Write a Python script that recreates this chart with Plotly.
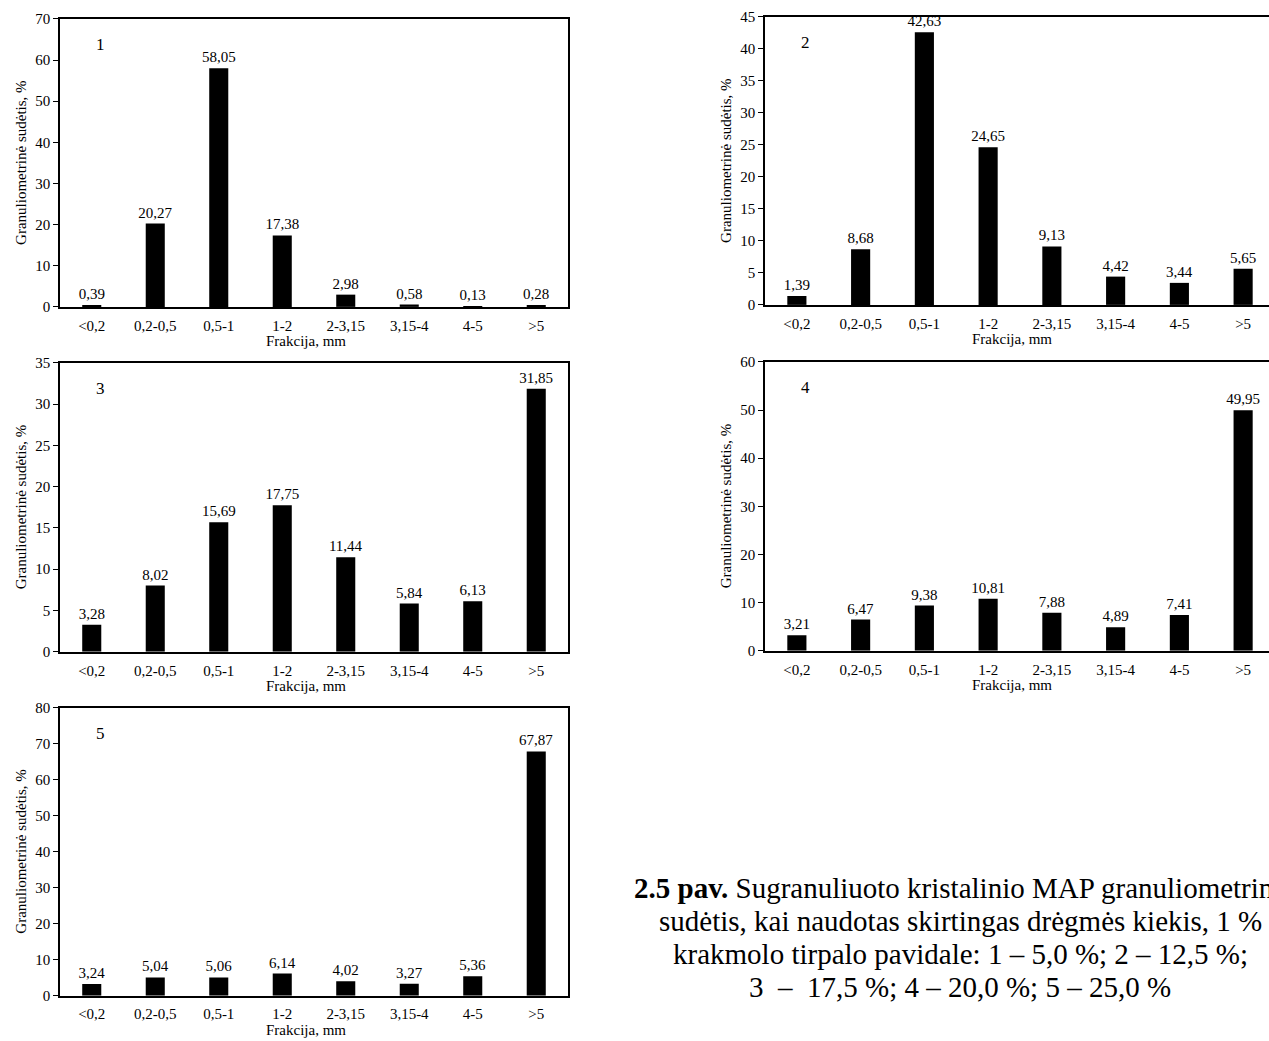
import plotly.graph_objects as go

W, H = 1269, 1041
# empirical vertical mapping of the photographed page: pic_y = 8 + 0.985 * fig_y
Y_OFF, Y_SCALE = 8.0, 0.985

categories = ["<0,2", "0,2-0,5", "0,5-1", "1-2", "2-3,15", "3,15-4", "4-5", ">5"]
values_1 = [0.39, 20.27, 58.05, 17.38, 2.98, 0.58, 0.13, 0.28]
values_2 = [1.39, 8.68, 42.63, 24.65, 9.13, 4.42, 3.44, 5.65]
values_3 = [3.28, 8.02, 15.69, 17.75, 11.44, 5.84, 6.13, 31.85]
values_4 = [3.21, 6.47, 9.38, 10.81, 7.88, 4.89, 7.41, 49.95]
values_5 = [3.24, 5.04, 5.06, 6.14, 4.02, 3.27, 5.36, 67.87]
panel_names = ["1", "2", "3", "4", "5"]
y_max = [70, 45, 35, 60, 80]
y_step = [10, 5, 5, 10, 10]

y_title = "Granuliometrinė sudėtis, %"
x_title = "Frakcija, mm"
caption_lines = [
    "<b>2.5 pav.</b> Sugranuliuoto kristalinio MAP granuliometrinė",
    "sudėtis, kai naudotas skirtingas drėgmės kiekis, 1 %",
    "krakmolo tirpalo pavidale: 1 – 5,0 %; 2 – 12,5 %;",
    "3  –  17,5 %; 4 – 20,0 %; 5 – 25,0 %",
]

all_values = [values_1, values_2, values_3, values_4, values_5]

# boxes in target picture pixels: (left, right, top, bottom)
boxes = [
    (60, 568, 19, 307),
    (765, 1275, 17, 305),
    (60, 568, 363, 652),
    (765, 1275, 362, 651),
    (60, 568, 708, 996),
]
FONT = "Liberation Serif"
fs = 15

fig = go.Figure()
annotations = []

def px_x(x):
    return x / W

def px_y(y):
    return 1 - ((y - Y_OFF) / Y_SCALE) / H

for i, (vals, box) in enumerate(zip(all_values, boxes)):
    l, r, t, b = box
    n = i + 1
    xa = "x" if n == 1 else f"x{n}"
    ya = "y" if n == 1 else f"y{n}"
    fig.add_trace(go.Bar(
        x=list(range(len(categories))), y=vals,
        xaxis=xa, yaxis=ya,
        marker=dict(color="black", line=dict(width=0)),
        text=[f"{v:.2f}".replace(".", ",") for v in vals],
        textposition="outside", cliponaxis=False, constraintext="none",
        textfont=dict(family=FONT, size=fs, color="black"),
        showlegend=False, hoverinfo="skip",
    ))
    cat_w = (r - l) / 8
    right_cut = r > W
    if right_cut:
        r_vis = W
        xr = [-0.5, -0.5 + (r_vis - l) / cat_w]
    else:
        r_vis = r
        xr = [-0.5, 7.5]
    xkey = "xaxis" if n == 1 else f"xaxis{n}"
    ykey = "yaxis" if n == 1 else f"yaxis{n}"
    fig.layout[xkey] = dict(
        domain=[px_x(l), min(1.0, px_x(r_vis))], anchor=ya, range=xr,
        tickmode="array", tickvals=list(range(len(categories))), ticktext=categories,
        showline=True, linecolor="black", linewidth=1.5, mirror=True,
        ticks="outside", ticklen=4, tickcolor="rgba(0,0,0,0)",
        showgrid=False, zeroline=False, fixedrange=True,
        tickfont=dict(family=FONT, size=fs, color="black"),
    )
    fig.layout[ykey] = dict(
        domain=[px_y(b), min(1.0, px_y(t))], anchor=xa, range=[0, y_max[i]], dtick=y_step[i],
        showline=True, linecolor="black", linewidth=1.5, mirror=(not right_cut),
        ticks="outside", ticklen=5, tickcolor="black",
        showgrid=False, zeroline=False, fixedrange=True,
        tickfont=dict(family=FONT, size=fs, color="black"),
    )
    annotations.append(dict(
        text=panel_names[i], x=px_x(l + 40), y=px_y(t + 26), xref="paper", yref="paper",
        showarrow=False, font=dict(family=FONT, size=17, color="black"),
        xanchor="center", yanchor="middle",
    ))
    annotations.append(dict(
        text=y_title, x=px_x(l - 39), y=px_y((t + b) / 2), xref="paper", yref="paper",
        showarrow=False, textangle=-90, font=dict(family=FONT, size=fs, color="black"),
        xanchor="center", yanchor="middle",
    ))
    xc = l + 4 * cat_w - 8
    annotations.append(dict(
        text=x_title, x=px_x(xc), y=px_y(b + 34), xref="paper", yref="paper",
        showarrow=False, font=dict(family=FONT, size=fs, color="black"),
        xanchor="center", yanchor="middle",
    ))

cap_y = [888, 921, 954, 987]
for line, yy in zip(caption_lines, cap_y):
    annotations.append(dict(
        text=line, x=px_x(960), y=px_y(yy), xref="paper", yref="paper",
        showarrow=False, font=dict(family=FONT, size=29, color="black"),
        xanchor="center", yanchor="middle",
    ))

fig.update_layout(
    width=W, height=H,
    margin=dict(l=0, r=0, t=0, b=0),
    paper_bgcolor="white", plot_bgcolor="white",
    bargap=0.7,
    annotations=annotations,
    font=dict(family=FONT, color="black"),
)

fig.write_html("out.html", config={"displayModeBar": False})
